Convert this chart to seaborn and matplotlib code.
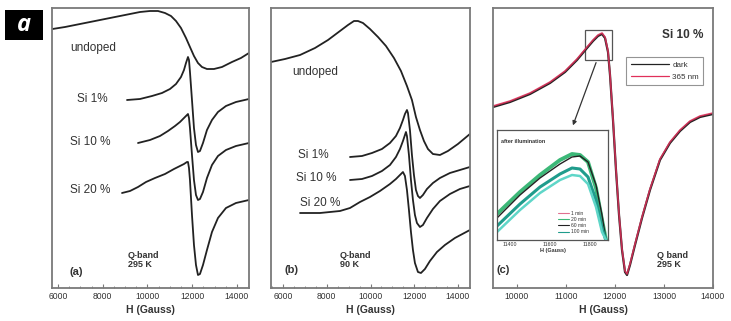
import matplotlib
matplotlib.use("Agg")
import matplotlib.pyplot as plt
from matplotlib.patches import Rectangle
from matplotlib.lines import Line2D
from matplotlib.ticker import MultipleLocator
import seaborn as sns

# ---------------- data (field in Gauss, intensity in arb. units) ----------------
# panel (a): Q-band, 295 K
a_undoped_H = [5750, 6313, 6983, 7654, 8324, 8995, 9665, 10112, 10470, 10783, 11051, 11275, 11498, 11722, 11900, 12079, 12258, 12437, 12660, 12973, 13331, 13778, 14180, 14538]
a_undoped_I = [259, 261, 264, 267, 270, 273, 276, 277, 277, 275, 272, 267, 260, 250, 241, 232, 225, 221, 219, 219, 221, 226, 230, 235]
a_si1_H = [9084, 9665, 10202, 10649, 11006, 11275, 11498, 11632, 11722, 11811, 11856, 11900, 11990, 12079, 12169, 12258, 12347, 12482, 12660, 12884, 13152, 13510, 13957, 14538]
a_si1_I = [188, 189, 192, 195, 199, 204, 211, 218, 225, 231, 228, 216, 188, 160, 143, 136, 137, 145, 158, 168, 176, 182, 186, 189]
a_si10_H = [9576, 10112, 10559, 10917, 11230, 11453, 11632, 11766, 11811, 11856, 11900, 11990, 12079, 12169, 12258, 12347, 12482, 12660, 12884, 13152, 13510, 13957, 14538]
a_si10_I = [145, 148, 152, 157, 162, 166, 170, 173, 174, 170, 160, 133, 108, 93, 88, 89, 96, 110, 123, 132, 138, 142, 145]
a_si20_H = [8861, 9218, 9576, 9934, 10336, 10783, 11185, 11453, 11632, 11766, 11811, 11856, 11900, 11990, 12079, 12169, 12258, 12347, 12482, 12660, 12884, 13152, 13510, 13957, 14538]
a_si20_I = [95, 97, 101, 106, 110, 114, 119, 122, 124, 126, 126, 120, 108, 73, 43, 23, 13, 14, 23, 38, 56, 70, 80, 85, 88]

# panel (b): Q-band, 90 K
b_undoped_H = [5452, 6091, 6777, 7462, 8057, 8605, 8971, 9245, 9428, 9656, 9976, 10342, 10707, 11073, 11393, 11667, 11895, 12078, 12261, 12444, 12627, 12855, 13175, 13541, 13998, 14546]
b_undoped_I = [226, 229, 233, 240, 248, 257, 263, 267, 267, 265, 259, 251, 242, 230, 217, 202, 188, 171, 158, 147, 139, 134, 133, 137, 144, 154]
b_si1_H = [9062, 9610, 10067, 10524, 10890, 11164, 11347, 11484, 11575, 11667, 11713, 11804, 11895, 11987, 12078, 12170, 12261, 12398, 12581, 12855, 13175, 13632, 14089, 14546]
b_si1_I = [131, 132, 135, 139, 145, 152, 160, 168, 174, 178, 175, 158, 133, 113, 98, 92, 90, 93, 99, 105, 110, 115, 118, 121]
b_si10_H = [9062, 9610, 10067, 10524, 10890, 11164, 11347, 11484, 11575, 11621, 11667, 11758, 11850, 11941, 12032, 12124, 12261, 12398, 12581, 12855, 13175, 13632, 14089, 14546]
b_si10_I = [108, 109, 112, 117, 123, 131, 139, 147, 153, 156, 152, 133, 108, 88, 73, 65, 61, 63, 70, 79, 87, 94, 99, 102]
b_si20_H = [6777, 7691, 8605, 9062, 9519, 9976, 10433, 10890, 11164, 11347, 11484, 11575, 11667, 11758, 11850, 11941, 12032, 12170, 12307, 12489, 12718, 13038, 13403, 13860, 14546]
b_si20_I = [75, 75, 77, 80, 86, 91, 97, 104, 109, 113, 116, 112, 98, 78, 56, 38, 25, 16, 15, 19, 27, 36, 43, 50, 58]

# panel (c): Si 10 %, Q band, 295 K, dark vs 365 nm
c_H = [9510, 9857, 10265, 10673, 10980, 11224, 11429, 11551, 11653, 11735, 11796, 11857, 11898, 11959, 12020, 12082, 12143, 12204, 12245, 12306, 12408, 12551, 12714, 12918, 13122, 13327, 13531, 13735, 14000]
c_dark_I = [181, 186, 194, 205, 216, 228, 240, 247, 252, 254, 250, 236, 213, 168, 118, 73, 38, 16, 13, 23, 43, 70, 98, 128, 145, 157, 166, 171, 174]
c_uv_I = [182, 187, 195, 206, 217, 229, 241, 248, 253, 255, 251, 237, 214, 169, 119, 74, 39, 17, 14, 24, 44, 71, 99, 129, 146, 158, 167, 172, 175]

# inset: after illumination
ins_H = [11335, 11450, 11550, 11650, 11710, 11750, 11790, 11830, 11860, 11880]
ins_1min = [22, 45, 62, 76, 83, 84, 78, 55, 25, 0]
ins_20min = [26, 48, 65, 80, 86, 85, 78, 52, 20, 0]
ins_60min = [14, 36, 53, 66, 72, 71, 63, 40, 12, 0]
ins_100min = [8, 30, 47, 60, 65, 64, 56, 33, 8, 0]
ins_labels = ["1 min", "20 min", "60 min", "100 min"]
ins_colors = ["#222222", "#3cb878", "#1f9c8c", "#5fd6c8"]

a_ticks = [6000, 8000, 10000, 12000, 14000]
b_ticks = [6000, 8000, 10000, 12000, 14000]
c_ticks = [10000, 11000, 12000, 13000, 14000]
ins_ticks = [11400, 11600, 11800]

# ---------------- style ----------------
sns.set_style("white")
plt.rcParams["font.family"] = ["Liberation Sans", "DejaVu Sans"]

W, H = 731, 321
fig = plt.figure(figsize=(W / 100, H / 100), dpi=100)

def ax_rect(x0, x1, y0, y1):
    return [x0 / W, 1 - y1 / H, (x1 - x0) / W, (y1 - y0) / H]

SPINE = "#7a7a7a"
TXT = "#333333"
LINE = "#222222"
RED = "#e0305a"

def style(ax, xlim, ticks, minor=None):
    ax.set_xlim(*xlim)
    ax.set_ylim(0, 280)
    ax.set_xticks(ticks)
    ax.set_xticklabels([str(t) for t in ticks])
    if minor:
        ax.xaxis.set_minor_locator(MultipleLocator(minor))
    ax.set_yticks([])
    for s in ax.spines.values():
        s.set_color(SPINE)
        s.set_linewidth(1.3)
    ax.tick_params(axis="x", which="both", direction="in", bottom=True, top=False,
                   color=SPINE, labelsize=6.2, labelcolor=TXT, pad=3)
    ax.tick_params(axis="x", which="major", length=3, width=0.8)
    ax.tick_params(axis="x", which="minor", length=1.8, width=0.6)
    ax.set_xlabel("H (Gauss)", fontsize=7.5, fontweight="bold", color=TXT, labelpad=3)
    ax.set_ylabel("")

def line(ax, x, y, color=LINE, lw=1.3, **kw):
    sns.lineplot(x=x, y=y, ax=ax, color=color, linewidth=lw, estimator=None,
                 sort=False, legend=False, **kw)

def label(ax, xf, yf, s, size=8.5, **kw):
    ax.text(xf, yf, s, transform=ax.transAxes, fontsize=size, color=TXT,
            va="center", **kw)

# ---------------- panel (a) ----------------
axa = fig.add_axes(ax_rect(52, 249, 8, 288))
for hx, iy in [(a_undoped_H, a_undoped_I), (a_si1_H, a_si1_I), (a_si10_H, a_si10_I), (a_si20_H, a_si20_I)]:
    line(axa, hx, iy)
style(axa, (5730, 14540), a_ticks, minor=500)
label(axa, 0.091, 0.857, "undoped")
label(axa, 0.127, 0.675, "Si 1%")
label(axa, 0.091, 0.521, "Si 10 %")
label(axa, 0.091, 0.350, "Si 20 %")
label(axa, 0.385, 0.10, "Q-band\n295 K", size=6.5, fontweight="bold", linespacing=1.1)
label(axa, 0.091, 0.058, "(a)", size=8, fontweight="bold")

# ---------------- panel (b) ----------------
axb = fig.add_axes(ax_rect(271, 470, 8, 288))
for hx, iy in [(b_undoped_H, b_undoped_I), (b_si1_H, b_si1_I), (b_si10_H, b_si10_I), (b_si20_H, b_si20_I)]:
    line(axb, hx, iy)
style(axb, (5450, 14550), b_ticks, minor=500)
label(axb, 0.106, 0.771, "undoped")
label(axb, 0.136, 0.475, "Si 1%")
label(axb, 0.126, 0.393, "Si 10 %")
label(axb, 0.146, 0.304, "Si 20 %")
label(axb, 0.347, 0.10, "Q-band\n90 K", size=6.5, fontweight="bold", linespacing=1.1)
label(axb, 0.07, 0.065, "(b)", size=8, fontweight="bold")

# ---------------- panel (c) ----------------
axc = fig.add_axes(ax_rect(493, 713, 8, 288))
line(axc, c_H, c_dark_I, color=LINE, lw=1.6)
line(axc, c_H, c_uv_I, color=RED, lw=1.2, alpha=0.85)
style(axc, (9510, 14000), c_ticks)
label(axc, 0.955, 0.904, "Si 10 %", size=8.5, ha="right", fontweight="bold")
label(axc, 0.745, 0.10, "Q band\n295 K", size=6.5, fontweight="bold", linespacing=1.1)
label(axc, 0.018, 0.065, "(c)", size=8, fontweight="bold")
handles = [Line2D([], [], color=LINE, lw=0.9), Line2D([], [], color=RED, lw=0.9)]
leg = axc.legend(handles, ["dark", "365 nm"], loc="upper right", bbox_to_anchor=(0.975, 0.84),
                 fontsize=5.8, frameon=True, fancybox=False, borderpad=0.55, handlelength=4.8,
                 labelspacing=0.5, handletextpad=0.4)
leg.get_frame().set_edgecolor(SPINE)
leg.get_frame().set_linewidth(0.8)
for t in leg.get_texts():
    t.set_color(TXT)

# zoom box around the peak and arrow to the inset
box_y0, box_y1 = 228, 258
axc.add_patch(Rectangle((ins_H[0] + 55, box_y0), ins_H[-1] - ins_H[0] - 5, box_y1 - box_y0,
                        fill=False, edgecolor="#555555", lw=0.9))
axc.annotate("", xy=(11122, 160), xytext=(11633, box_y0),
             arrowprops=dict(arrowstyle="-|>", color="#333333", lw=0.9, mutation_scale=6))

# ---------------- inset ----------------
axi = fig.add_axes(ax_rect(497, 608, 130, 240))
for vals, col, lw in zip([ins_20min, ins_1min, ins_60min, ins_100min],
                         [ins_colors[1], ins_colors[0], ins_colors[2], ins_colors[3]],
                         [2.8, 1.0, 2.2, 1.8]):
    line(axi, ins_H, vals, color=col, lw=lw)
axi.set_xlim(11335, 11890)
axi.set_ylim(0, 110)
axi.set_xticks(ins_ticks)
axi.set_xticklabels([str(t) for t in ins_ticks])
axi.set_yticks([])
for s in axi.spines.values():
    s.set_color("#555555")
    s.set_linewidth(0.9)
axi.tick_params(axis="x", direction="in", length=2, width=0.6, labelsize=3.8,
                labelcolor=TXT, pad=1.5, color="#555555")
axi.set_xlabel("H (Gauss)", fontsize=4, fontweight="bold", color=TXT, labelpad=1)
axi.set_ylabel("")
axi.text(0.04, 0.9, "after illumination", transform=axi.transAxes, fontsize=4,
         fontweight="bold", color=TXT, va="center")
ih = [Line2D([], [], color=c, lw=0.8) for c in ["#e07090", ins_colors[1], ins_colors[0], ins_colors[2]]]
il = axi.legend(ih, ins_labels, loc="lower right", bbox_to_anchor=(0.86, 0.02), fontsize=3.6,
                frameon=False, handlelength=2.2, labelspacing=0.25, handletextpad=0.3,
                borderpad=0.2)
for t in il.get_texts():
    t.set_color(TXT)

# ---------------- panel tag ----------------
fig.patches.append(Rectangle((5 / W, 1 - 40 / H), 38 / W, 30 / H, transform=fig.transFigure,
                             facecolor="black", edgecolor="none", figure=fig))
fig.text(24 / W, 1 - 25 / H, "a", color="white", fontsize=17, fontweight="bold",
         style="italic", family=["Open Sans", "DejaVu Sans"], ha="center", va="center")

fig.savefig("out.png", dpi=100, facecolor="white")
